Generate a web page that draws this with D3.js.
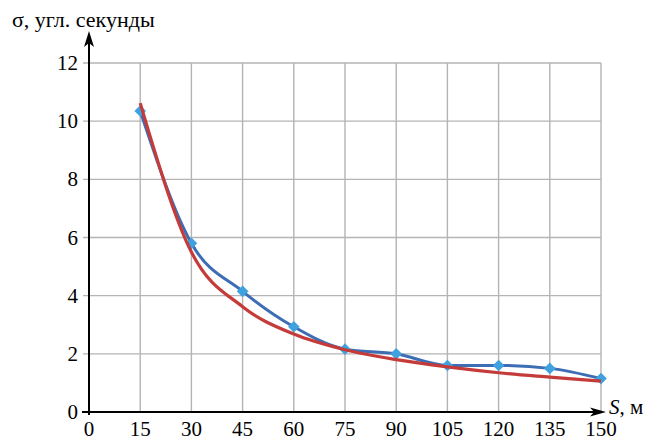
<!DOCTYPE html>
<html>
<head>
<meta charset="utf-8">
<script src="https://cdn.jsdelivr.net/npm/d3@7"></script>
<style>
  body { margin: 0; background: #fff; }
  .lbl { font-family: "Liberation Serif", "DejaVu Serif", serif; font-size: 21px; fill: #000; }
</style>
</head>
<body>
<div id="app"></div>
<script>
// distances, m
const distances = [15, 30, 45, 60, 75, 90, 105, 120, 135, 150];
// measured sigma, arc seconds (blue)
const measured = [10.35, 5.8, 4.15, 2.93, 2.16, 2.0, 1.6, 1.6, 1.5, 1.15];
// fitted trend (red)
const trend = [10.62, 5.5, 3.62, 2.68, 2.14, 1.8, 1.55, 1.35, 1.2, 1.06];
const xTicks = [0, 15, 30, 45, 60, 75, 90, 105, 120, 135, 150];
const yTicks = [0, 2, 4, 6, 8, 10, 12];

const w = 651, h = 441;

const svg = d3.select("#app")
    .append("svg")
    .attr("width", w)
    .attr("height", h)

const x = d3.scaleLinear().domain([0, 150]).range([89, 601]);
const y = d3.scaleLinear().domain([0, 12]).range([412, 63]);

// grid
const grid = svg.append("g")
    .attr("stroke", "#b4b4b4")
    .attr("stroke-width", 1.4)

grid.selectAll(".vg")
    .data(xTicks.filter(d => d > 0))
    .enter()
    .append("line")
    .attr("x1", d => x(d)).attr("x2", d => x(d))
    .attr("y1", y(0)).attr("y2", y(12))

grid.selectAll(".hg")
    .data(yTicks.filter(d => d > 0))
    .enter()
    .append("line")
    .attr("x1", x(0) - 6).attr("x2", x(150))
    .attr("y1", d => y(d)).attr("y2", d => y(d))

// axes
const axes = svg.append("g").attr("stroke", "#000").attr("stroke-width", 2)
axes.append("line")
    .attr("x1", x(0)).attr("x2", x(0))
    .attr("y1", y(0) + 3).attr("y2", 40)
axes.append("line")
    .attr("x1", x(0) - 7).attr("x2", 598)
    .attr("y1", y(0)).attr("y2", y(0))

// arrow heads
svg.append("path")
    .attr("d", `M${x(0)},31 L${x(0) + 5},47 L${x(0)},43 L${x(0) - 5},47 Z`)
    .attr("fill", "#000")
svg.append("path")
    .attr("d", `M606,${y(0)} L590,${y(0) - 4.5} L594,${y(0)} L590,${y(0) + 4.5} Z`)
    .attr("fill", "#000")

// tick labels
svg.selectAll(".ylab")
    .data(yTicks)
    .enter()
    .append("text")
    .attr("class", "lbl")
    .attr("x", 78)
    .attr("y", d => y(d))
    .attr("dy", "0.34em")
    .attr("text-anchor", "end")
    .text(d => d)

svg.selectAll(".xlab")
    .data(xTicks)
    .enter()
    .append("text")
    .attr("class", "lbl")
    .attr("x", d => x(d))
    .attr("y", 436)
    .attr("text-anchor", "middle")
    .text(d => d)

// axis titles
svg.append("text")
    .attr("class", "lbl")
    .attr("x", 12)
    .attr("y", 27)
    .style("font-size", "22px")
    .text("σ, угл. секунды")

const sl = svg.append("text")
    .attr("class", "lbl")
    .attr("x", 609)
    .attr("y", 414)
sl.append("tspan").style("font-style", "italic").text("S")
sl.append("tspan").text(", м")

// series
const pts = (vals) => distances.map((d, i) => [d, vals[i]]);
const line = d3.line()
    .x(d => x(d[0]))
    .y(d => y(d[1]))
    .curve(d3.curveMonotoneX)

svg.append("path")
    .datum(pts(measured))
    .attr("d", line)
    .attr("fill", "none")
    .attr("stroke", "#3d6db4")
    .attr("stroke-width", 3)

svg.selectAll(".mk")
    .data(pts(measured))
    .enter()
    .append("path")
    .attr("d", d3.symbol().type(d3.symbolSquare).size(68))
    .attr("transform", d => `translate(${x(d[0])},${y(d[1])}) rotate(45)`)
    .attr("fill", "#3fa2de")

svg.append("path")
    .datum(pts(trend))
    .attr("d", line)
    .attr("fill", "none")
    .attr("stroke", "#c43b3a")
    .attr("stroke-width", 3.2)
</script>
</body>
</html>
